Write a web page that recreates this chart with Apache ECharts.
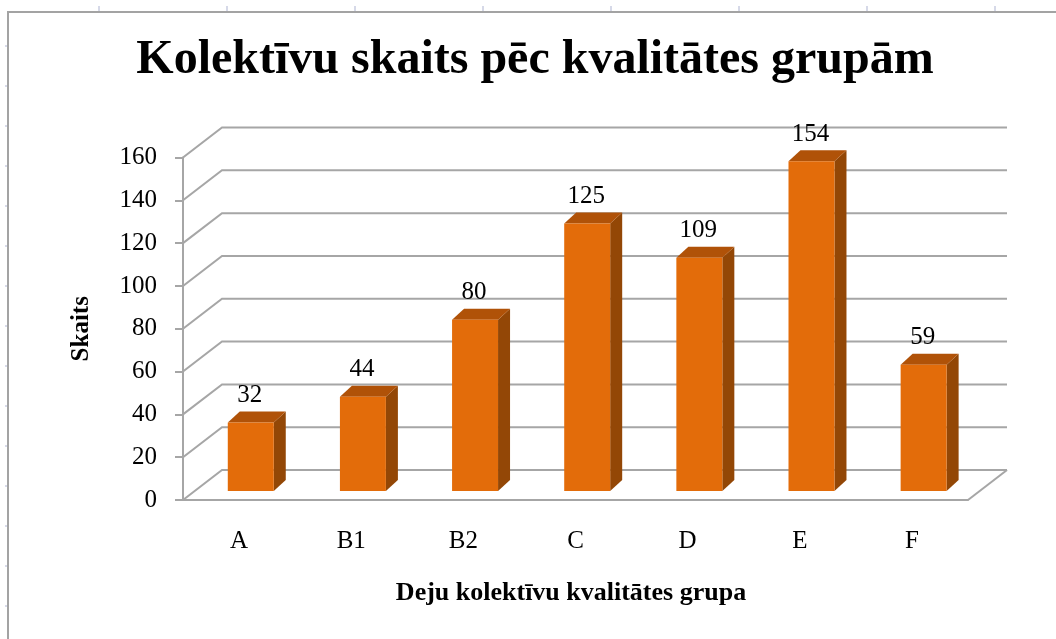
<!DOCTYPE html>
<html>
<head>
<meta charset="utf-8">
<script src="https://cdn.jsdelivr.net/npm/echarts@6/dist/echarts.min.js"></script>
<style>
  html, body { margin: 0; padding: 0; background: #fff; }
  #chart { width: 1056px; height: 639px; }
</style>
</head>
<body>
<div id="chart"></div>
<script>
// dati no attēla
const groups = ['A', 'B1', 'B2', 'C', 'D', 'E', 'F'];
const counts = [32, 44, 80, 125, 109, 154, 59];
const yTicks = [0, 20, 40, 60, 80, 100, 120, 140, 160];

const serif = '"Liberation Serif", "DejaVu Serif", serif';
const gridColor = '#a6a6a6';
// 3D nobīdes (pikseļos)
const wallDx = 39, wallDy = -30;    // aizmugurējā siena
const barOx = 11.7, barOy = -9;     // stabiņa priekšējās plaknes nobīde
const barDx = 12, barDy = -11;      // stabiņa dziļums

const chart = echarts.init(document.getElementById('chart'));

// fona rāmis un izklājlapas atzīmes
const decor = [{
  type: 'rect',
  shape: { x: 8, y: 12, width: 1100, height: 700 },
  style: { fill: 'none', stroke: '#a3a3a3', lineWidth: 2 }
}];
for (let x = 99; x < 1056; x += 128) {
  decor.push({ type: 'line', shape: { x1: x, y1: 6, x2: x, y2: 11 }, style: { stroke: '#c8cde0', lineWidth: 1.5 } });
}
for (let y = 46; y < 639; y += 40) {
  decor.push({ type: 'line', shape: { x1: 5, y1: y, x2: 7, y2: y }, style: { stroke: '#c8cde0', lineWidth: 1.5 } });
}

chart.setOption({
  backgroundColor: '#fff',
  animation: false,
  graphic: decor,
  title: {
    text: 'Kolektīvu skaits pēc kvalitātes grupām',
    left: 530,
    textAlign: 'center',
    top: 32,
    textStyle: { fontFamily: serif, fontWeight: 'bold', fontSize: 48, color: '#000' }
  },
  grid: { left: 183, right: 88, top: 157.5, bottom: 139, outerBoundsMode: 'none' },
  xAxis: {
    type: 'category',
    data: groups,
    boundaryGap: true,
    name: 'Deju kolektīvu kvalitātes grupa',
    nameLocation: 'middle',
    nameGap: 80,
    nameTextStyle: { fontFamily: serif, fontWeight: 'bold', fontSize: 26, color: '#000', padding: [0, 9, 0, 0] },
    axisLine: { lineStyle: { color: gridColor, width: 2 } },
    axisTick: { alignWithLabel: false, length: 8, lineStyle: { color: gridColor, width: 2 } },
    axisLabel: { margin: 29, fontFamily: serif, fontSize: 25, color: '#000' }
  },
  yAxis: {
    type: 'value',
    min: 0,
    max: 160,
    interval: 20,
    name: 'Skaits',
    nameLocation: 'middle',
    nameRotate: 90,
    nameGap: 89,
    nameTextStyle: { fontFamily: serif, fontWeight: 'bold', fontSize: 25, color: '#000' },
    axisLine: { show: true, lineStyle: { color: gridColor, width: 2 } },
    axisTick: { show: true, length: 8, lineStyle: { color: gridColor, width: 2 } },
    axisLabel: { margin: 26, fontFamily: serif, fontSize: 25, color: '#000' },
    splitLine: { show: false }
  },
  series: [
    {
      // režģa līnijas uz sānu un aizmugurējās sienas
      type: 'custom',
      z: 1,
      silent: true,
      data: yTicks.map(v => [0, v]),
      renderItem: function (params, api) {
        const v = api.value(1);
        const p = api.coord([0, v]);
        const gx = params.coordSys.x;
        const gw = params.coordSys.width;
        const style = { stroke: gridColor, lineWidth: 2, fill: 'none' };
        const children = [{
          type: 'polyline',
          shape: { points: [[gx, p[1]], [gx + wallDx, p[1] + wallDy], [gx + gw + wallDx, p[1] + wallDy]] },
          style: style
        }];
        if (v === 0) {
          children.push({
            type: 'line',
            shape: { x1: gx + gw, y1: p[1], x2: gx + gw + wallDx, y2: p[1] + wallDy },
            style: style
          });
        }
        return { type: 'group', children: children };
      }
    },
    {
      // 3D stabiņi
      type: 'custom',
      z: 3,
      data: counts.map((v, i) => [i, v]),
      renderItem: function (params, api) {
        const i = api.value(0);
        const v = api.value(1);
        const base = api.coord([i, 0]);
        const top = api.coord([i, v]);
        const band = api.size([1, 0])[0];
        const w = band * 0.41;
        const x0 = base[0] + barOx - w / 2;
        const x1 = x0 + w;
        const yb = base[1] + barOy;
        const yt = top[1] + barOy;
        return {
          type: 'group',
          children: [
            {
              type: 'polygon',
              shape: { points: [[x1, yt], [x1 + barDx, yt + barDy], [x1 + barDx, yb + barDy], [x1, yb]] },
              style: { fill: '#934706' }
            },
            {
              type: 'polygon',
              shape: { points: [[x0, yt], [x0 + barDx, yt + barDy], [x1 + barDx, yt + barDy], [x1, yt]] },
              style: { fill: '#b05208' }
            },
            {
              type: 'rect',
              shape: { x: x0, y: yt, width: w, height: yb - yt },
              style: { fill: '#e36c0a' }
            },
            {
              type: 'text',
              style: {
                text: String(v),
                x: (x0 + x1) / 2 - 1,
                y: yt + barDy - 16,
                align: 'center',
                verticalAlign: 'middle',
                fontFamily: serif,
                fontSize: 25,
                fill: '#000'
              }
            }
          ]
        };
      }
    }
  ]
});
</script>
</body>
</html>
